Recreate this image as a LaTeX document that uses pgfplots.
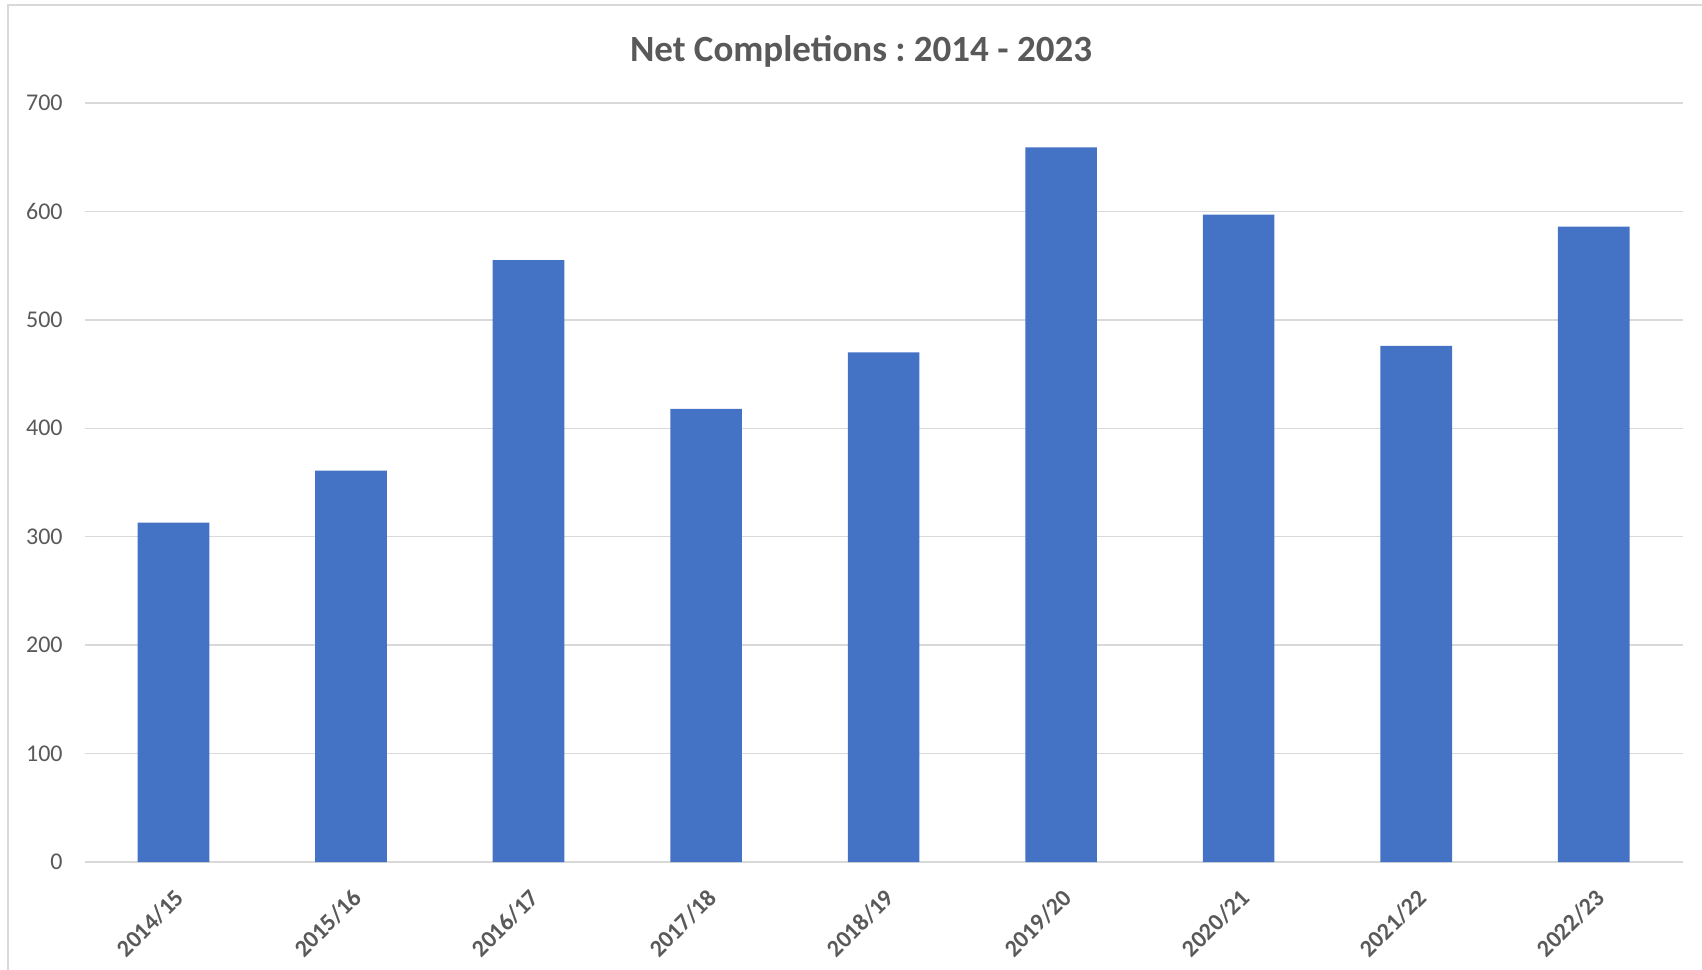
\documentclass[border=0pt]{standalone}
\usepackage{fontspec}
\setmainfont{Carlito}
\usepackage{pgfplots}
\pgfplotsset{compat=1.18}
\definecolor{barblue}{HTML}{4472C4}
\definecolor{gridgray}{HTML}{D9D9D9}
\definecolor{txtgray}{HTML}{595959}
\frenchspacing
\begin{document}
\begin{tikzpicture}
\useasboundingbox (-42.35pt,-53.5pt) rectangle (808.65pt,431pt);
\draw[gridgray, line width=0.75pt] (-38.4pt,-60pt) -- (-38.4pt,428.6pt) -- (820pt,428.6pt);
\begin{axis}[
  at={(0pt,0pt)}, anchor=south west,
  width=798.9pt, height=379.5pt, scale only axis,
  xmin=-0.5, xmax=8.5, ymin=0, ymax=700,
  ytick={0,100,...,700},
  xtick={0,...,8},
  xticklabels={2014/15,2015/16,2016/17,2017/18,2018/19,2019/20,2020/21,2021/22,2022/23},
  ymajorgrids,
  grid style={gridgray, line width=0.75pt},
  axis line style={draw=none},
  major tick length=0pt,
  /pgf/number format/assume math mode=true,
  tick label style={txtgray, font=\fontsize{12}{14}\selectfont},
  yticklabel style={anchor=east, inner sep=0pt, xshift=-10.85pt},
  xticklabel style={xshift=0pt, yshift=-12.5pt, rotate=45, anchor=north east, inner sep=0pt, font=\bfseries\fontsize{12}{14}\selectfont},
  ybar, bar width=35.8pt,
]
\addplot[fill=barblue, draw=none] coordinates {
  (0,313) (1,361) (2,555) (3,418) (4,470) (5,659) (6,597) (7,476) (8,586)
};
\end{axis}
\node[txtgray, font=\bfseries\fontsize{18.5}{22}\selectfont] at (388.15pt,405.5pt) {Net Completions : 2014 - 2023};
\end{tikzpicture}
\end{document}
